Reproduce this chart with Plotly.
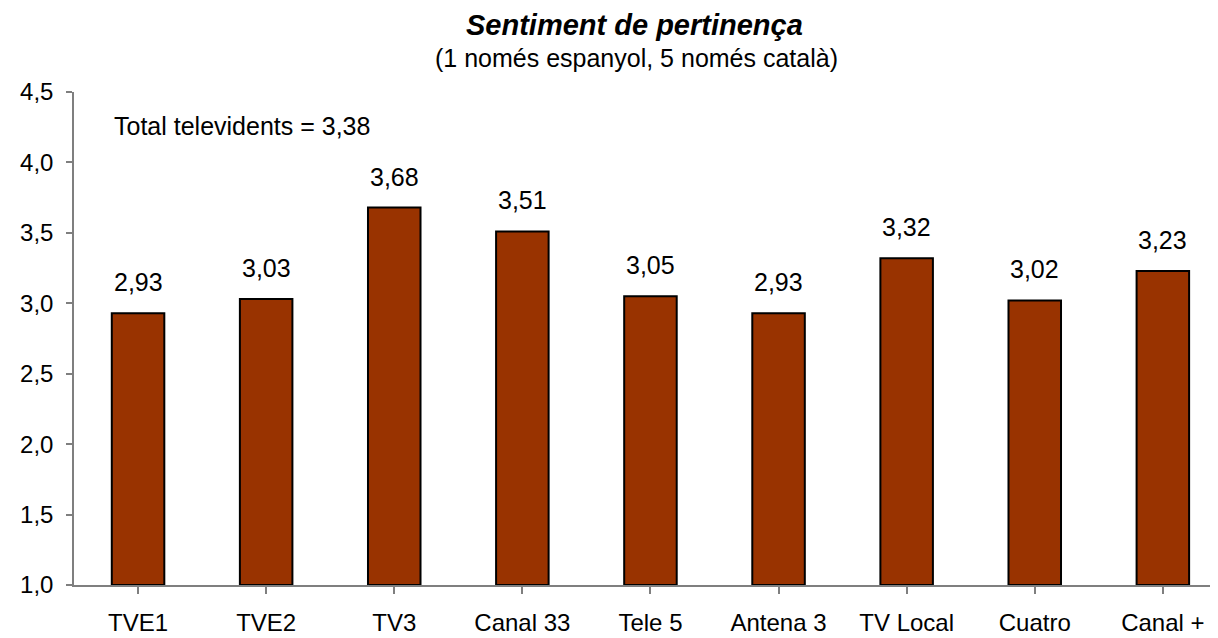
import plotly.graph_objects as go

categories = ["TVE1", "TVE2", "TV3", "Canal 33", "Tele 5", "Antena 3", "TV Local", "Cuatro", "Canal +"]
values = [2.93, 3.03, 3.68, 3.51, 3.05, 2.93, 3.32, 3.02, 3.23]
value_labels = ["2,93", "3,03", "3,68", "3,51", "3,05", "2,93", "3,32", "3,02", "3,23"]
y_ticks = [1.0, 1.5, 2.0, 2.5, 3.0, 3.5, 4.0, 4.5]
total_text = "Total televidents = 3,38"
title_text = "Sentiment de pertinença"
subtitle_text = "(1 només espanyol, 5 només català)"

FONT = "Liberation Sans, Arial, sans-serif"

# page has an 8px body margin; figure sized to fill the rest of the window
OFF = 8
W, H = 1218 - OFF, 638 - OFF
L, R, T, B = 74 - OFF, 0, 92 - OFF, 53
pw, ph = W - L - R, H - T - B

def px_to_paper(xp, yp):
    # page pixel -> paper coords
    return ((xp - OFF) - L) / pw, (H - (yp - OFF) - B) / ph

fig = go.Figure()
fig.add_trace(go.Bar(
    x=list(range(len(categories))),
    y=[v - 1.0 for v in values],
    base=1.0,
    width=0.41,
    marker=dict(color="#993300", line=dict(color="black", width=2)),
    hoverinfo="skip",
))

annotations = []
for i, (v, lab) in enumerate(zip(values, value_labels)):
    annotations.append(dict(
        x=i, y=v, xref="x", yref="y", text=lab, showarrow=False,
        yanchor="bottom", yshift=15,
        font=dict(family=FONT, size=25, color="black"),
    ))
tx, ty = px_to_paper(112, 126)
annotations.append(dict(
    x=tx, y=ty, xref="paper", yref="paper", text=total_text,
    showarrow=False, xanchor="left", yanchor="middle",
    font=dict(family=FONT, size=25, color="black"),
))
tx, ty = px_to_paper(634, 25)
annotations.append(dict(
    x=tx, y=ty, xref="paper", yref="paper", text="<b><i>" + title_text + "</i></b>",
    showarrow=False, xanchor="center", yanchor="middle",
    font=dict(family=FONT, size=29, color="black"),
))
tx, ty = px_to_paper(636, 58)
annotations.append(dict(
    x=tx, y=ty, xref="paper", yref="paper", text=subtitle_text,
    showarrow=False, xanchor="center", yanchor="middle",
    font=dict(family=FONT, size=25, color="black"),
))

fig.update_layout(
    width=W, height=H,
    margin=dict(l=L, r=R, t=T, b=B, autoexpand=False),
    paper_bgcolor="white", plot_bgcolor="white",
    separators=", ",
    showlegend=False,
    annotations=annotations,
    xaxis=dict(
        range=[-0.5, -0.5 + pw / 128.1],
        tickmode="array", tickvals=list(range(len(categories))), ticktext=categories,
        tickson="boundaries", ticks="outside", ticklen=7, tickcolor="#7f7f7f", tickwidth=1.5,
        showline=True, linecolor="#7f7f7f", linewidth=1.5,
        showgrid=False, zeroline=False,
        tickfont=dict(family=FONT, size=24, color="black"),
        ticklabelstandoff=8,
    ),
    yaxis=dict(
        range=[1.0, 4.5],
        tickmode="array", tickvals=y_ticks, tickformat=".1f",
        ticks="outside", ticklen=6, tickcolor="#7f7f7f", tickwidth=1.5,
        showline=True, linecolor="#7f7f7f", linewidth=1.5,
        showgrid=False, zeroline=False,
        tickfont=dict(family=FONT, size=24, color="black"),
        ticklabelstandoff=8,
    ),
)

fig.write_html("out.html")
